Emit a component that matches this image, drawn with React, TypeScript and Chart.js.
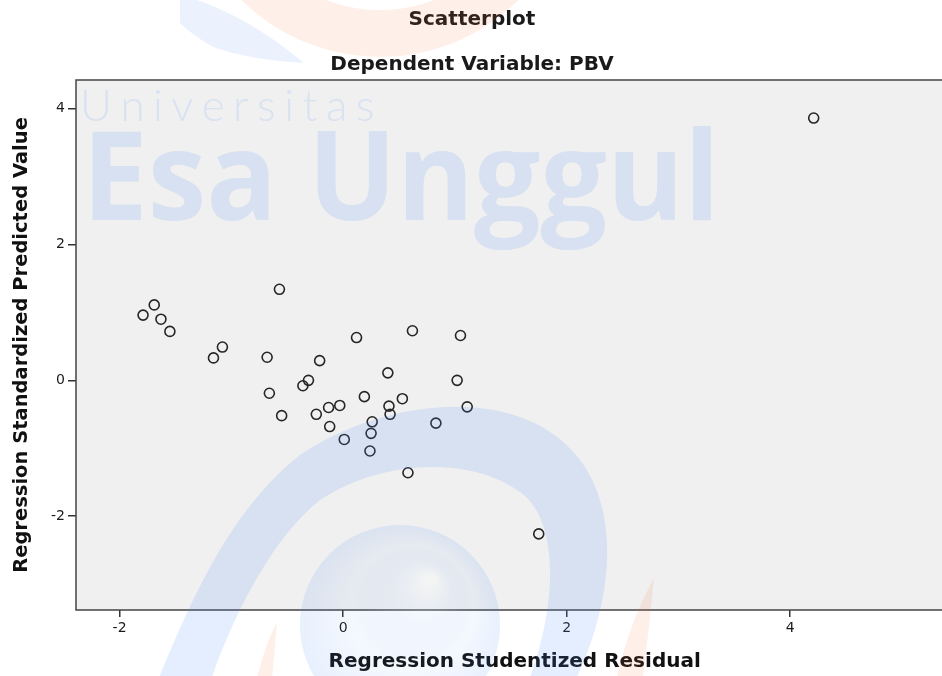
import React, { useEffect, useRef } from "react";
import { Chart, registerables } from "chart.js";

Chart.register(...registerables);

// ---- Data ----
const residuals = [
  -0.57, -1.69, -1.79, -1.63, -1.55, -1.08, -1.16, -0.68, -0.21, 0.12,
  0.62, 1.05, 0.4, -0.31, -0.36, -0.66, 1.02, 0.19, 0.53, -0.55,
  -0.24, -0.13, -0.03, 0.41, 0.42, 1.11, 0.26, -0.12, 0.25, 0.83,
  0.01, 0.24, 0.58, 1.75, 4.21,
];
const predicted = [
  1.34, 1.11, 0.96, 0.9, 0.72, 0.49, 0.33, 0.34, 0.29, 0.63,
  0.73, 0.66, 0.11, 0.0, -0.08, -0.19, 0.0, -0.24, -0.27, -0.52,
  -0.5, -0.4, -0.37, -0.38, -0.5, -0.39, -0.61, -0.68, -0.78, -0.63,
  -0.87, -1.04, -1.36, -2.26, 3.86,
];
const xTickValues = [-2, 0, 2, 4];
const yTickValues = [-2, 0, 2, 4];
const xRange = [-2.39, 5.46];
const yRange = [-3.38, 4.42];

const chartTitle = "Scatterplot";
const chartSubtitle = "Dependent Variable: PBV";
const xAxisTitle = "Regression Studentized Residual";
const yAxisTitle = "Regression Standardized Predicted Value";
const watermarkSmall = "Universitas";
const watermarkBig = "Esa Unggul";

const FONT = "'DejaVu Sans', 'Liberation Sans', Arial, sans-serif";

const BLUE = "rgba(73,140,247,0.15)";
const ORANGE = "rgba(250,120,50,0.11)";

const decorPlugin = {
  id: "decor",
  beforeDraw(chart: any) {
    const { ctx, chartArea: a, width, height } = chart;
    ctx.save();
    ctx.fillStyle = "#ffffff";
    ctx.fillRect(0, 0, width, height);
    ctx.fillStyle = "#f0f0f0";
    ctx.fillRect(a.left, a.top, a.right - a.left, a.bottom - a.top);
    ctx.restore();
  },
  afterDraw(chart: any) {
    const { ctx, chartArea: a } = chart;
    ctx.save();
    // plot frame
    ctx.strokeStyle = "#444";
    ctx.lineWidth = 1.5;
    ctx.strokeRect(a.left, a.top, a.right - a.left, a.bottom - a.top);

    // titles
    ctx.fillStyle = "#1a1a1a";
    ctx.textAlign = "center";
    ctx.textBaseline = "middle";
    ctx.font = `bold 20px ${FONT}`;
    ctx.fillText(chartTitle, 472, 20);
    ctx.fillText(chartSubtitle, 472, 65);

    // ---- watermark overlay ----
    // Universitas
    ctx.fillStyle = "rgba(73,140,247,0.14)";
    ctx.textAlign = "left";
    ctx.textBaseline = "alphabetic";
    ctx.font = `300 44px Lato, 'Open Sans', sans-serif`;
    const w0 = ctx.measureText(watermarkSmall).width;
    const spacing = (293 - w0) / (watermarkSmall.length - 1);
    let cx = 80;
    for (const ch of watermarkSmall) {
      ctx.fillText(ch, cx, 121);
      cx += ctx.measureText(ch).width + spacing;
    }
    // Esa Unggul
    ctx.fillStyle = BLUE;
    ctx.font = `bold 123px 'Open Sans', sans-serif`;
    const wb = ctx.measureText(watermarkBig).width;
    ctx.save();
    ctx.translate(82, 220);
    ctx.scale(638 / wb, 1);
    ctx.fillText(watermarkBig, 0, 0);
    ctx.restore();

    // blue swoosh
    ctx.fillStyle = BLUE;
    ctx.beginPath();
    ctx.moveTo(150, 700);
    ctx.bezierCurveTo(190, 600, 230, 510, 300, 455);
    ctx.bezierCurveTo(380, 400, 520, 380, 580, 460);
    ctx.bezierCurveTo(625, 520, 610, 620, 565, 700);
    ctx.lineTo(521, 700);
    ctx.bezierCurveTo(560, 610, 560, 520, 520, 492);
    ctx.bezierCurveTo(470, 455, 380, 460, 320, 500);
    ctx.bezierCurveTo(270, 540, 230, 620, 204, 700);
    ctx.closePath();
    ctx.fill();

    // upper-left streak
    ctx.fillStyle = "rgba(73,140,247,0.11)";
    ctx.beginPath();
    ctx.moveTo(180, 0);
    ctx.lineTo(197, 0);
    ctx.quadraticCurveTo(250, 18, 304, 63);
    ctx.quadraticCurveTo(250, 60, 213, 47);
    ctx.quadraticCurveTo(192, 35, 180, 23);
    ctx.closePath();
    ctx.fill();

    // sphere
    const g = ctx.createRadialGradient(430, 580, 5, 400, 625, 100);
    g.addColorStop(0, "rgba(255,255,255,0.25)");
    g.addColorStop(0.6, "rgba(73,140,247,0.06)");
    g.addColorStop(1, "rgba(73,140,247,0.13)");
    ctx.fillStyle = g;
    ctx.beginPath();
    ctx.arc(400, 625, 100, 0, Math.PI * 2);
    ctx.fill();

    // orange top ring
    ctx.strokeStyle = ORANGE;
    ctx.lineWidth = 47;
    ctx.beginPath();
    ctx.arc(380, -140, 173.5, 0.1 * Math.PI, 0.9 * Math.PI);
    ctx.stroke();

    // orange bottom slivers
    ctx.fillStyle = ORANGE;
    ctx.beginPath();
    ctx.moveTo(252, 700);
    ctx.quadraticCurveTo(262, 650, 277, 622);
    ctx.quadraticCurveTo(274, 660, 270, 700);
    ctx.closePath();
    ctx.fill();
    ctx.beginPath();
    ctx.moveTo(612, 700);
    ctx.quadraticCurveTo(625, 630, 654, 578);
    ctx.quadraticCurveTo(648, 640, 640, 700);
    ctx.closePath();
    ctx.fill();

    ctx.restore();
  },
};

export default function App() {
  const ref = useRef<HTMLCanvasElement | null>(null);

  useEffect(() => {
    if (!ref.current) return;
    const points = residuals.map((x, i) => ({ x, y: predicted[i] }));
    const chart = new Chart(ref.current, {
      type: "scatter",
      data: {
        datasets: [
          {
            data: points,
            pointStyle: "circle",
            pointRadius: 5,
            pointHoverRadius: 5,
            pointBorderWidth: 1.6,
            pointBorderColor: "#262626",
            pointBackgroundColor: "rgba(0,0,0,0)",
            showLine: false,
          },
        ],
      },
      options: {
        animation: false,
        responsive: false,
        events: [],
        layout: { padding: { top: 80, left: 0, right: 5, bottom: 0 } },
        plugins: {
          legend: { display: false },
          tooltip: { enabled: false },
          title: { display: false },
        },
        scales: {
          x: {
            type: "linear",
            min: xRange[0],
            max: xRange[1],
            afterBuildTicks: (s: any) => {
              s.ticks = xTickValues.map((v) => ({ value: v }));
            },
            afterFit: (s: any) => {
              s.height = 66;
            },
            grid: {
              drawOnChartArea: false,
              drawTicks: true,
              tickLength: 7,
              color: "#333",
              lineWidth: 1.5,
            },
            border: { display: false },
            ticks: {
              font: { family: FONT, size: 14 },
              color: "#1a1a1a",
              padding: 3,
              maxRotation: 0,
              callback: (v: any) => String(v),
            },
            title: {
              display: true,
              text: xAxisTitle,
              font: { family: FONT, size: 20, weight: "bold" },
              color: "#111",
              padding: { top: 0, bottom: 2 },
            },
          },
          y: {
            type: "linear",
            min: yRange[0],
            max: yRange[1],
            afterBuildTicks: (s: any) => {
              s.ticks = yTickValues.map((v) => ({ value: v }));
            },
            afterFit: (s: any) => {
              s.width = 76;
            },
            grid: {
              drawOnChartArea: false,
              drawTicks: true,
              tickLength: 8,
              color: "#333",
              lineWidth: 1.5,
            },
            border: { display: false },
            ticks: {
              font: { family: FONT, size: 14 },
              color: "#1a1a1a",
              padding: 3,
              callback: (v: any) => String(v),
            },
            title: {
              display: true,
              text: yAxisTitle,
              font: { family: FONT, size: 19.5, weight: "bold" },
              color: "#111",
              padding: { top: 10, bottom: 0 },
            },
          },
        },
      },
      plugins: [decorPlugin],
    });
    return () => chart.destroy();
  }, []);

  return (
    <div
      style={{
        position: "absolute",
        left: 0,
        top: 0,
        width: 942,
        height: 676,
        overflow: "hidden",
        background: "#fff",
      }}
    >
      <canvas ref={ref} width={960} height={676} style={{ display: "block" }} />
    </div>
  );
}
